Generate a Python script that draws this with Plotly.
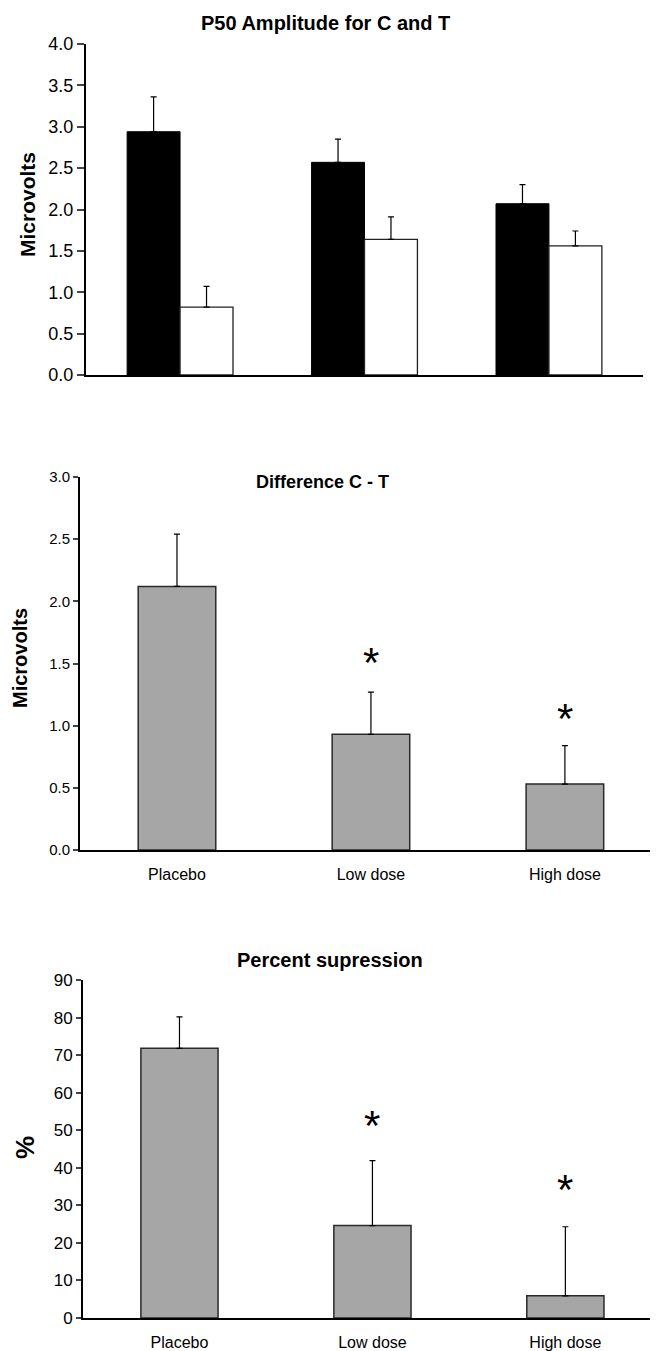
import plotly.graph_objects as go

# ---------------- data ----------------
groups = ["Placebo", "Low dose", "High dose"]

amp_C = [2.94, 2.57, 2.07]
amp_C_err = [0.42, 0.28, 0.23]
amp_T = [0.82, 1.64, 1.56]
amp_T_err = [0.25, 0.27, 0.18]

diff_vals = [2.12, 0.93, 0.53]
diff_err = [0.42, 0.34, 0.31]
diff_sig = [None, 1.54, 1.09]

supp_vals = [71.8, 24.6, 5.9]
supp_err = [8.4, 17.3, 18.4]
supp_sig = [None, 52.3, 35.2]

titles = ["P50 Amplitude for C and T", "Difference C - T", "Percent supression"]
ylabels = ["Microvolts", "Microvolts", "%"]

# ---------------- layout helpers ----------------
OFF = 8  # page body margin
W, H = 658 - OFF, 1351 - OFF
FONT = "Liberation Sans, Arial, sans-serif"


def py(pix):
    return (H - (pix - OFF)) / H


def px(pix):
    return (pix - OFF) / W


def err(a):
    return dict(type="data", array=a, arrayminus=[0] * len(a), symmetric=False,
                color="black", thickness=1.2, width=3)


fig = go.Figure()

# top panel: grouped black/white bars
fig.add_trace(go.Bar(x=groups, y=amp_C, width=0.287, offset=-0.287,
                     marker=dict(color="black", line=dict(color="black", width=1)),
                     error_y=err(amp_C_err), xaxis="x", yaxis="y", showlegend=False))
fig.add_trace(go.Bar(x=groups, y=amp_T, width=0.287, offset=0,
                     marker=dict(color="white", line=dict(color="#222", width=1.3)),
                     error_y=err(amp_T_err), xaxis="x", yaxis="y", showlegend=False))

gray = "#a6a6a6"
fig.add_trace(go.Bar(x=groups, y=diff_vals, width=0.40,
                     marker=dict(color=gray, line=dict(color="#2a2a2a", width=1.5)),
                     error_y=err(diff_err), xaxis="x2", yaxis="y2", showlegend=False))
fig.add_trace(go.Bar(x=groups, y=supp_vals, width=0.40,
                     marker=dict(color=gray, line=dict(color="#2a2a2a", width=1.5)),
                     error_y=err(supp_err), xaxis="x3", yaxis="y3", showlegend=False))

axis_common = dict(showgrid=False, zeroline=False, showline=True, linecolor="black",
                   linewidth=2, automargin=False)

fig.update_layout(
    template="none",
    width=W, height=H, margin=dict(l=0, r=0, t=0, b=0, autoexpand=False),
    paper_bgcolor="white", plot_bgcolor="white", barmode="overlay",
    font=dict(family=FONT, color="black"),
    xaxis=dict(axis_common, domain=[px(86), px(643)], anchor="y", range=[-0.51, 2.51],
               showticklabels=False, ticks=""),
    yaxis=dict(axis_common, domain=[py(375), py(44)], anchor="x", range=[0, 4], dtick=0.5,
               tickformat=".1f", ticks="outside", ticklen=7, tickwidth=1.5,
               tickfont=dict(size=18)),
    xaxis2=dict(axis_common, domain=[px(80), 1.0], anchor="y2", range=[-0.5, 2.48],
                ticks="", tickfont=dict(size=16), ticklabelstandoff=9),
    yaxis2=dict(axis_common, domain=[py(850), py(477)], anchor="x2", range=[0, 3], dtick=0.5,
                tickformat=".1f", ticks="outside", ticklen=5, tickwidth=1.5,
                tickfont=dict(size=15)),
    xaxis3=dict(axis_common, domain=[px(83), 1.0], anchor="y3", range=[-0.5, 2.48],
                ticks="", tickfont=dict(size=16), ticklabelstandoff=9),
    yaxis3=dict(axis_common, domain=[py(1318), py(980)], anchor="x3", range=[0, 90], dtick=10,
                ticks="outside", ticklen=5, tickwidth=1.5, tickfont=dict(size=17)),
)

ann = []
# titles
ann.append(dict(text="<b>%s</b>" % titles[0], x=px(325), y=py(23), xref="paper", yref="paper",
                showarrow=False, font=dict(size=20), xanchor="center", yanchor="middle"))
ann.append(dict(text="<b>%s</b>" % titles[1], x=px(322), y=py(482), xref="paper", yref="paper",
                showarrow=False, font=dict(size=18), xanchor="center", yanchor="middle"))
ann.append(dict(text="<b>%s</b>" % titles[2], x=px(330), y=py(960), xref="paper", yref="paper",
                showarrow=False, font=dict(size=20), xanchor="center", yanchor="middle"))
# y labels
ann.append(dict(text="<b>%s</b>" % ylabels[0], x=px(27), y=py(205), xref="paper", yref="paper",
                showarrow=False, textangle=-90, font=dict(size=21), xanchor="center", yanchor="middle"))
ann.append(dict(text="<b>%s</b>" % ylabels[1], x=px(20), y=py(658), xref="paper", yref="paper",
                showarrow=False, textangle=-90, font=dict(size=20), xanchor="center", yanchor="middle"))
ann.append(dict(text="<b>%s</b>" % ylabels[2], x=px(25), y=py(1148), xref="paper", yref="paper",
                showarrow=False, textangle=-90, font=dict(size=26), xanchor="center", yanchor="middle"))
# significance asterisks
for g, s in zip(groups, diff_sig):
    if s is not None:
        ann.append(dict(text="*", x=g, y=s, xref="x2", yref="y2", showarrow=False,
                        font=dict(size=42), xanchor="center", yanchor="middle", yshift=-4))
for g, s in zip(groups, supp_sig):
    if s is not None:
        ann.append(dict(text="*", x=g, y=s, xref="x3", yref="y3", showarrow=False,
                        font=dict(size=42), xanchor="center", yanchor="middle", yshift=-4))
fig.update_layout(annotations=ann)

fig.write_html("out.html")
